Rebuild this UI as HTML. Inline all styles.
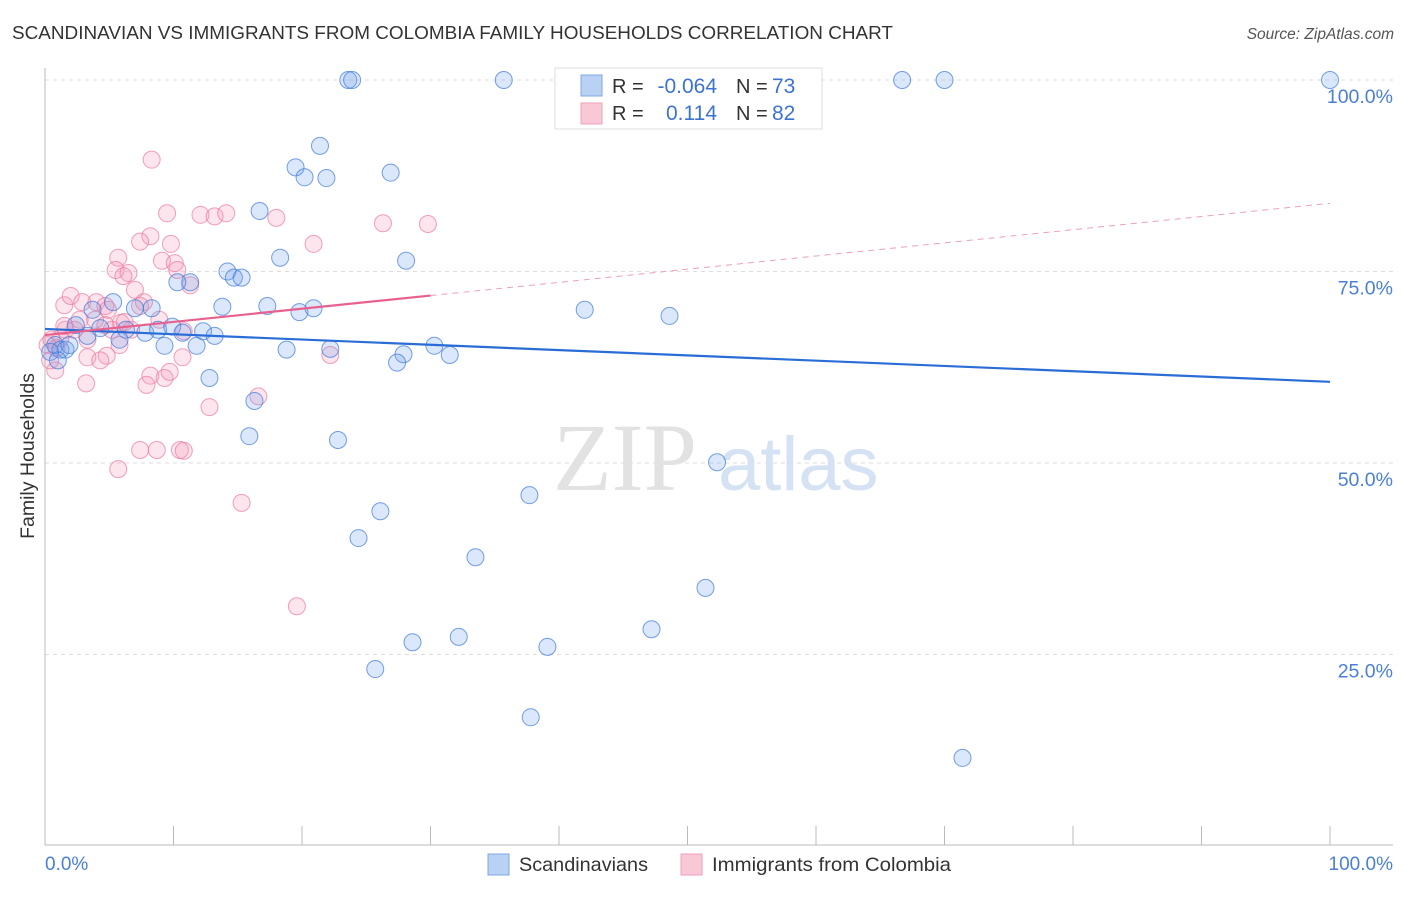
<!DOCTYPE html>
<html><head><meta charset="utf-8">
<style>
html,body{margin:0;padding:0;background:#fff;}
body{width:1406px;height:892px;overflow:hidden;font-family:"Liberation Sans",sans-serif;}
</style></head>
<body>
<svg id="chart" width="1406" height="892" xmlns="http://www.w3.org/2000/svg" font-family="Liberation Sans, sans-serif">
<text x="12" y="39" font-size="18" fill="#333" textLength="881" lengthAdjust="spacingAndGlyphs">SCANDINAVIAN VS IMMIGRANTS FROM COLOMBIA FAMILY HOUSEHOLDS CORRELATION CHART</text>
<text x="1394" y="39" font-size="15.5" fill="#555" font-style="italic" text-anchor="end">Source: ZipAtlas.com</text>
<text transform="translate(34,456) rotate(-90)" font-size="19.5" fill="#333" text-anchor="middle">Family Households</text>
<g id="grid"></g>
<g id="wm">
<text x="553" y="490" font-size="96" font-family="Liberation Serif, serif" fill="#e2e2e2">ZIP</text>
<text x="718" y="490" font-size="76" fill="#d4e2f4">atlas</text>
</g>
<g id="axes"></g>
<g id="pts"></g>
<g id="trends"></g>
<g>
<rect x="555" y="68" width="267" height="61" fill="#fff" stroke="#ddd"/>
<rect x="581" y="75" width="21" height="21" fill="#b9d1f3" stroke="#7ea6e6"/>
<rect x="581" y="103" width="21" height="21" fill="#f9c8d6" stroke="#f0a0b8"/>
<text x="612" y="93" font-size="20" fill="#333">R =</text>
<text x="717" y="93" font-size="21" fill="#3d73d0" text-anchor="end">-0.064</text>
<text x="736" y="93" font-size="20" fill="#333">N =</text>
<text x="772" y="93" font-size="21" fill="#3d73d0">73</text>
<text x="612" y="120" font-size="20" fill="#333">R =</text>
<text x="717" y="120" font-size="21" fill="#3d73d0" text-anchor="end">0.114</text>
<text x="736" y="120" font-size="20" fill="#333">N =</text>
<text x="772" y="120" font-size="21" fill="#3d73d0">82</text>
</g>
<g>
<rect x="488" y="854" width="21" height="21" fill="#b9d1f3" stroke="#7ea6e6"/>
<text x="519" y="871" font-size="19.5" fill="#333" textLength="129" lengthAdjust="spacingAndGlyphs">Scandinavians</text>
<rect x="681" y="854" width="21" height="21" fill="#f9c8d6" stroke="#f0a0b8"/>
<text x="712" y="871" font-size="19.5" fill="#333" textLength="239" lengthAdjust="spacingAndGlyphs">Immigrants from Colombia</text>
</g>
</svg>
<script>
const yTicks=[25,50,75,100];
const yTickLabels=["25.0%","50.0%","75.0%","100.0%"];
const xTickLabels=["0.0%","100.0%"];
const blueX=[23.6,23.9,35.7,43.3,66.7,70.0,100,21.4,19.5,20.2,21.9,26.9,16.7,18.3,28.1,14.2,14.7,15.3,11.3,10.3,17.3,13.8,5.3,19.8,20.9,42.0,48.6,8.3,7.0,3.7,2.4,6.3,7.8,8.8,9.9,10.7,12.3,13.2,5.8,9.3,11.8,18.8,22.2,27.9,27.4,30.3,31.5,12.8,16.3,15.9,22.8,52.3,37.7,26.1,24.4,33.5,51.4,28.6,32.2,39.1,47.2,25.7,37.8,71.4,0.8,1.2,0.4,1.6,1.9,1.0,3.3,4.3];
const blueY=[100,100,100,100,100,100,100,91.4,88.6,87.3,87.2,87.9,82.9,76.8,76.4,75.0,74.2,74.2,73.6,73.6,70.5,70.4,71.0,69.7,70.2,70.0,69.2,70.2,70.2,70.0,68.0,67.4,67.0,67.4,67.8,67.0,67.2,66.6,66.1,65.3,65.3,64.8,64.9,64.2,63.1,65.3,64.1,61.1,58.1,53.5,53.0,50.1,45.8,43.7,40.2,37.7,33.7,26.6,27.3,26.0,28.3,23.1,16.8,11.5,65.4,64.8,64.5,64.8,65.4,63.4,66.6,67.6];
const pinkX=[8.3,9.5,12.1,13.2,14.1,18.0,26.3,29.8,8.2,7.4,9.8,5.7,20.9,9.1,10.1,5.5,6.5,10.3,6.1,11.3,7.0,7.7,1.5,2.0,2.9,4.0,4.7,4.9,7.4,2.7,3.9,5.9,8.9,1.6,4.7,6.2,1.2,3.3,2.3,10.8,4.8,3.3,10.7,22.2,0.8,3.2,8.2,9.3,7.9,9.7,16.6,12.8,0.2,0.5,0.9,5.7,7.4,8.7,10.5,10.8,15.3,19.6,1.5,5.2,6.7,4.3,5.8,0.4];
const pinkY=[89.6,82.6,82.4,82.2,82.6,82.0,81.3,81.2,79.6,78.9,78.6,76.8,78.6,76.4,76.1,75.2,74.8,75.2,74.4,73.2,72.6,71.0,70.6,71.8,71.0,71.0,70.5,70.0,70.5,68.7,68.7,68.3,68.7,67.4,68.0,68.4,66.3,66.1,67.4,67.2,64.0,63.8,63.8,64.1,62.1,60.4,61.4,61.1,60.2,61.9,58.7,57.3,65.4,66.1,65.0,49.2,51.7,51.7,51.7,51.6,44.8,31.3,67.9,67.4,67.4,63.4,65.4,63.4];
const blueTrend=[67.5,60.6];
const pinkTrend=[66.7,83.9];
const pinkSolidEnd=30;

const X0=45,X1=1330,Y0=846,Y100=80;
const sx=v=>X0+(X1-X0)*v/100;
const sy=v=>Y0-(Y0-Y100)*v/100;
const NS="http://www.w3.org/2000/svg";
function mk(tag,attrs,parent){const e=document.createElementNS(NS,tag);for(const k in attrs)e.setAttribute(k,attrs[k]);parent.appendChild(e);return e;}
const grid=document.getElementById('grid'),axes=document.getElementById('axes'),pts=document.getElementById('pts'),tr=document.getElementById('trends');
yTicks.forEach((t,i)=>{
  const l=mk('line',{x1:X0,x2:1393,y1:sy(t),y2:sy(t),stroke:'#ddd','stroke-dasharray':'4,4'},grid);
  
  
  const tx=mk('text',{x:1393,y:sy(t)+23,'font-size':19.5,fill:'#4a7fd4','text-anchor':'end'},axes);
  tx.textContent=yTickLabels[i];
  
  
});
mk('line',{x1:X0,x2:X0,y1:68,y2:845,stroke:'#bbb'},axes);
mk('line',{x1:X0,x2:1393,y1:845,y2:845,stroke:'#bbb'},axes);
for(let i=1;i<=10;i++){const x=sx(i*10);mk('line',{x1:x,x2:x,y1:826,y2:845,stroke:'#bbb'},axes);}
const xl0=mk('text',{x:45,y:870,'font-size':19,fill:'#4a7fd4'},axes);xl0.textContent=xTickLabels[0];


const xl1=mk('text',{x:1393,y:870,'font-size':19,fill:'#4a7fd4','text-anchor':'end'},axes);xl1.textContent=xTickLabels[1];


pinkX.forEach((v,i)=>{
  const c=mk('circle',{cx:sx(v),cy:sy(pinkY[i]),r:8.5,fill:'rgba(243,150,180,0.25)',stroke:'rgba(236,120,160,0.7)','stroke-width':1},pts);
  
  
});
blueX.forEach((v,i)=>{
  const c=mk('circle',{cx:sx(v),cy:sy(blueY[i]),r:8.5,fill:'rgba(110,160,235,0.25)',stroke:'rgba(60,120,220,0.7)','stroke-width':1},pts);
  
  
});
const bl=mk('line',{x1:sx(0),y1:sy(blueTrend[0]),x2:sx(100),y2:sy(blueTrend[1]),stroke:'#2a6dd6','stroke-width':2.2},tr);


const pm=pinkTrend[0]+(pinkTrend[1]-pinkTrend[0])*pinkSolidEnd/100;
const pl=mk('line',{x1:sx(0),y1:sy(pinkTrend[0]),x2:sx(pinkSolidEnd),y2:sy(pm),stroke:'#e8608e','stroke-width':2.2},tr);


const pd=mk('line',{x1:sx(pinkSolidEnd),y1:sy(pm),x2:sx(100),y2:sy(pinkTrend[1]),stroke:'#eba0b8','stroke-width':1,'stroke-dasharray':'6,5'},tr);


</script>
</body></html>
